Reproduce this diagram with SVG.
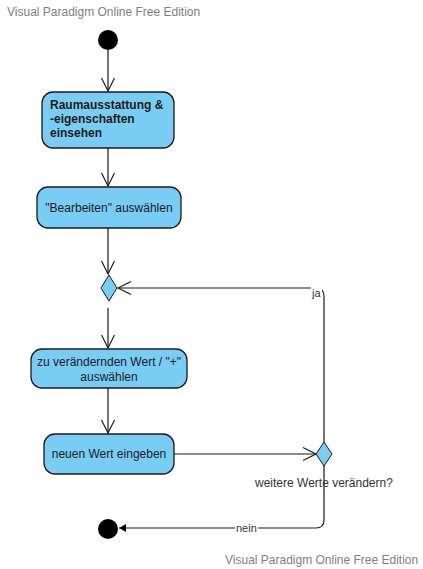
<svg xmlns="http://www.w3.org/2000/svg" width="423" height="569" viewBox="0 0 423 569">
<defs>
<style>
.act{fill:#79CDF4;stroke:#1a1a1a;stroke-width:1.3}
.dia{fill:#79CDF4;stroke:#1a1a1a;stroke-width:1}
.t{font-family:"Liberation Sans",Arial,sans-serif;font-size:12px;fill:#1a1a1a}
.b{font-weight:bold}
.lbl{font-family:"Liberation Sans",Arial,sans-serif;font-size:11px;fill:#333}
.wm{font-family:"Liberation Sans",Arial,sans-serif;font-size:12px;fill:#808080}
.c{fill:none;stroke:#1a1a1a;stroke-width:1.2}
</style>
<marker id="open" markerUnits="userSpaceOnUse" markerWidth="16" markerHeight="16" viewBox="-14 -8 16 16" refX="0" refY="0" orient="auto">
<path d="M -13 -6.5 L 0 0 L -13 6.5" fill="none" stroke="#1a1a1a" stroke-width="1.2"/>
</marker>
<marker id="fill" markerUnits="userSpaceOnUse" markerWidth="10" markerHeight="10" viewBox="-8 -5 10 10" refX="0" refY="0" orient="auto">
<path d="M -7 -4 L 0 0 L -7 4 Z" fill="#000"/>
</marker>
</defs>
<text class="wm" x="7" y="16">Visual Paradigm Online Free Edition</text>
<text class="wm" x="225" y="564">Visual Paradigm Online Free Edition</text>
<g id="connectors">
<path class="c" d="M108 50 L108 91" marker-end="url(#open)"/>
<path class="c" d="M108 148 L108 186" marker-end="url(#open)"/>
<path class="c" d="M108 228 L108 274" marker-end="url(#open)"/>
<path class="c" d="M108 308 L108 348" marker-end="url(#open)"/>
<path class="c" d="M108 388 L108 433" marker-end="url(#open)"/>
<path class="c" d="M174 454 L316 454" marker-end="url(#open)"/>
<path class="c" d="M324 442 L324 296 Q324 288 316 288 L118 288" marker-end="url(#open)"/>
<path class="c" d="M324 466 L324 520 Q324 528 316 528 L119 528" marker-end="url(#fill)"/>
<rect x="311" y="284" width="11" height="13" fill="#fff"/>
<text class="lbl" x="312" y="297">ja</text>
<rect x="235" y="522" width="23" height="12" fill="#fff"/>
<text class="lbl" x="236" y="532">nein</text>
</g>
<g id="start"><circle cx="108" cy="40" r="10" fill="#000"/></g>
<g id="n1">
<rect class="act" x="42" y="92" width="132" height="56" rx="11"/>
<text class="t b" x="50" y="109">Raumausstattung &amp;</text>
<text class="t b" x="50" y="123">-eigenschaften</text>
<text class="t b" x="50" y="137">einsehen</text>
</g>
<g id="n2">
<rect class="act" x="37" y="187" width="144" height="41" rx="11"/>
<text class="t" x="109" y="212" text-anchor="middle">"Bearbeiten" auswählen</text>
</g>
<g id="merge"><path class="dia" d="M109 275 L117 288 L109 301 L101 288 Z"/></g>
<g id="n3">
<rect class="act" x="31" y="349" width="156" height="39" rx="11"/>
<text class="t" x="109" y="366" text-anchor="middle">zu verändernden Wert / "+"</text>
<text class="t" x="109" y="381" text-anchor="middle">auswählen</text>
</g>
<g id="n4">
<rect class="act" x="44" y="434" width="130" height="40" rx="11"/>
<text class="t" x="109" y="458" text-anchor="middle">neuen Wert eingeben</text>
</g>
<g id="decision">
<path class="dia" d="M324 442 L332 454 L324 466 L316 454 Z"/>
<text class="lbl" x="255" y="487" style="font-size:12px">weitere Werte verändern?</text>
</g>
<g id="end"><circle cx="108" cy="529" r="10" fill="#000"/></g>
</svg>
